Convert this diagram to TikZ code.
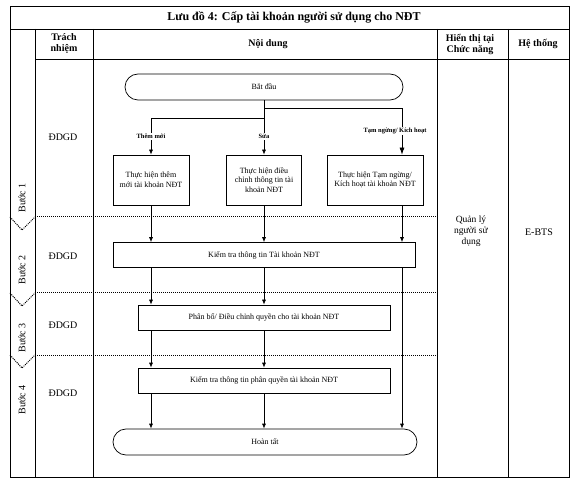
\documentclass[tikz,border=0pt]{standalone}
\usepackage{fontspec}
\setmainfont{Liberation Serif}
\usetikzlibrary{arrows.meta}
\tikzset{
  box/.style={draw, align=center, inner sep=1pt, minimum height=25pt, font=\fontsize{8}{9.5}\selectfont},
  term/.style={box, rounded corners=13pt, minimum height=26pt},
  flow/.style={-{Latex[length=5pt,width=4pt]}},
  bigflow/.style={-{Latex[length=7pt,width=5pt]}},
  lbl/.style={fill=white, inner sep=1pt, font=\fontsize{6.5}{7.5}\selectfont\bfseries},
  stepsep/.style={densely dotted, line width=1pt},
  head/.style={align=center, font=\fontsize{10}{11}\selectfont\bfseries},
  cell/.style={align=center, font=\fontsize{10}{11}\selectfont},
}
\begin{document}
\begin{tikzpicture}[x=1pt,y=-1pt,line width=0.7pt]
\useasboundingbox (0,0) rectangle (576,481);
% table
\draw (10,6) rectangle (569,477);
\draw (10,29) -- (569,29);
\draw (35,59) -- (569,59);
\foreach \x in {35,93,437,508} \draw (\x,29) -- (\x,477);
\node[font=\fontsize{12}{14}\selectfont\bfseries] (title) at (294,17) {Lưu đồ 4: Cấp tài khoản người sử dụng cho NĐT};
\node[head] (h1) at (64,44) {Trách\\nhiệm};
\node[head] (h2) at (268,44) {Nội dung};
\node[head] (h3) at (470,44) {Hiển thị tại\\Chức năng};
\node[head] (h4) at (538,44) {Hệ thống};
% steps
\foreach \y in {217,293,355} {
  \draw[stepsep] (10,\y) -- (22,\y+13) -- (35,\y);
  \draw[stepsep] (35,\y) -- (437,\y);
}
\foreach \n/\y in {1/198,2/270,3/338,4/400}
  \node[cell, rotate=90] (buoc\n) at (22,\y) {Bước \n};
\foreach \n/\y in {1/137,2/256,3/325,4/393}
  \node[cell] (dd\n) at (63,\y) {ĐDGD};
\node[cell, font=\fontsize{9.5}{11}\selectfont] (ql) at (471,231) {Quản lý\\người sử\\dụng};
\node[cell] (ebts) at (539,232) {E-BTS};
% flow
\node[term, minimum width=278pt] (start) at (264,87) {Bắt đầu};
\node[box, minimum width=76pt, minimum height=50pt] (them) at (151,180) {Thực hiện thêm\\mới tài khoản NĐT};
\node[box, minimum width=75pt, minimum height=50pt] (sua) at (264,180) {Thực hiện điều\\chỉnh thông tin tài\\khoản NĐT};
\node[box, minimum width=96pt, minimum height=50pt] (tam) at (375,180) {Thực hiện Tạm ngừng/\\Kích hoạt tài khoản NĐT};
\node[box, minimum width=302pt] (kt) at (264,255) {Kiểm tra thông tin Tài khoản NĐT};
\node[box, minimum width=252pt] (pb) at (264,317.5) {Phân bổ/ Điều chỉnh quyền cho tài khoản NĐT};
\node[box, minimum width=252pt] (ktq) at (264,380.5) {Kiểm tra thông tin phân quyền tài khoản NĐT};
\node[term, minimum width=304pt] (end) at (265,442) {Hoàn tất};
\coordinate (forkL) at (264,118);
\coordinate (forkR) at (264,108);
\coordinate (lane) at (402,0);
\draw[flow] (start.south) -- node[lbl, pos=0.67]{Sửa} (sua.north);
\draw[flow] (forkL) -| node[lbl, pos=0.75]{Thêm mới} (them.north);
\draw[bigflow] (forkR) -| node[lbl, pos=0.75, xshift=-7pt]{Tạm ngừng/ Kích hoạt} (tam.north -| lane);
\draw[flow] (them.south) -- (kt.north -| them.south);
\draw[flow] (sua.south) -- (kt.north -| sua.south);
\draw[flow] (tam.south -| lane) -- (kt.north -| lane);
\draw[flow] (kt.south -| them.south) -- (pb.north -| them.south);
\draw[flow] (kt.south -| sua.south) -- (pb.north -| sua.south);
\draw[flow] (kt.south -| lane) -- (end.north -| lane);
\draw[flow] (pb.south -| them.south) -- (ktq.north -| them.south);
\draw[flow] (pb.south -| sua.south) -- (ktq.north -| sua.south);
\draw[flow] (ktq.south -| them.south) -- (end.north -| them.south);
\draw[flow] (ktq.south -| sua.south) -- (end.north -| sua.south);
\end{tikzpicture}
\end{document}
